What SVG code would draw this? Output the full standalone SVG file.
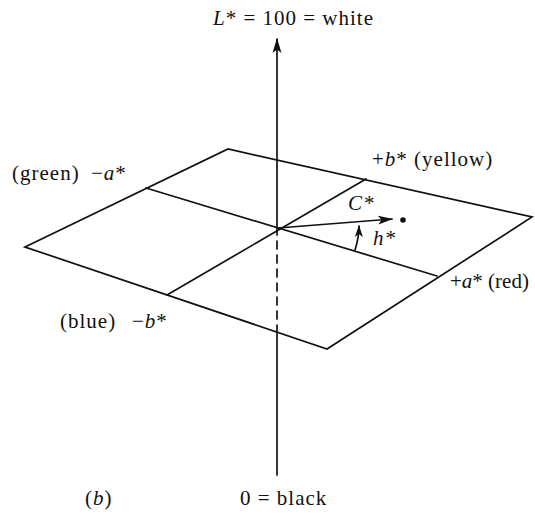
<svg xmlns="http://www.w3.org/2000/svg" width="535" height="515" viewBox="0 0 535 515">
<defs>
<style>
.ln{stroke:#111;stroke-width:1.7;fill:none;stroke-linecap:round}
.t{font-family:"Liberation Serif","Times New Roman",serif;font-size:21px;letter-spacing:1px;fill:#111}
.i{font-style:italic}
.tight{letter-spacing:0}
</style>
<marker id="ah" viewBox="0 0 15 10" refX="14" refY="5" markerWidth="15" markerHeight="10" markerUnits="userSpaceOnUse" orient="auto">
<path d="M0,0.5 L15,5 L0,9.5 L3.5,5 Z" fill="#111"/>
</marker>
<marker id="ahs" viewBox="0 0 12 9" refX="11" refY="4.5" markerWidth="12" markerHeight="9" markerUnits="userSpaceOnUse" orient="auto">
<path d="M0,0.5 L12,4.5 L0,8.5 L3,4.5 Z" fill="#111"/>
</marker>
</defs>
<rect width="535" height="515" fill="#fff"/>
<g id="connectors">
<line class="ln" x1="277" y1="475" x2="277" y2="334"/>
<line class="ln" x1="277" y1="333" x2="277" y2="229" stroke-dasharray="8 6"/>
<line class="ln" x1="277" y1="228" x2="277" y2="39" marker-end="url(#ah)"/>
<line class="ln" x1="146" y1="188" x2="437" y2="276"/>
<line class="ln" x1="167" y1="295" x2="366" y2="179"/>
<line class="ln" x1="278" y1="228" x2="392" y2="219" marker-end="url(#ah)"/>
<path class="ln" d="M355,250 A80,80 0 0 0 359,226" marker-end="url(#ahs)"/>
</g>
<g id="plane">
<polygon class="ln" points="25,247 228,149 532,217 327,349"/>
</g>
<g id="point">
<circle cx="403" cy="220" r="2.8" fill="#111"/>
</g>
<g id="labels">
<text class="t" x="213" y="25"><tspan class="i">L</tspan>* = 100 = white</text>
<text class="t" x="12" y="180">(green)</text>
<text class="t" x="91" y="180">−<tspan class="i">a</tspan>*</text>
<text class="t" x="372" y="166">+<tspan class="i">b</tspan>* (yellow)</text>
<text class="t i" x="348" y="210">C*</text>
<text class="t i" x="373" y="245">h*</text>
<text class="t tight" x="450" y="288">+<tspan class="i">a</tspan>* (red)</text>
<text class="t" x="60" y="328">(blue)</text>
<text class="t" x="132" y="328">−<tspan class="i">b</tspan>*</text>
<text class="t" x="85" y="505">(<tspan class="i">b</tspan>)</text>
<text class="t" x="240" y="505">0 = black</text>
</g>
</svg>
